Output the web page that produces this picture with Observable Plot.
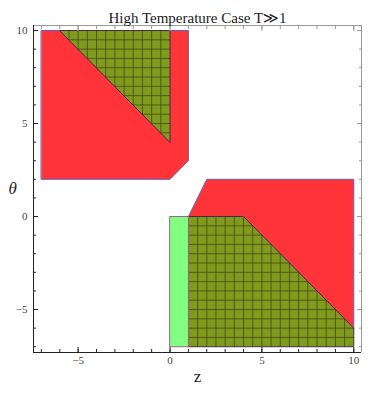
<!DOCTYPE html>
<html><head><meta charset="utf-8">
<script src="https://cdn.jsdelivr.net/npm/d3@7"></script>
<script src="https://cdn.jsdelivr.net/npm/@observablehq/plot@0.6"></script>
<style>body{margin:0;background:#fff}</style>
</head><body><div id="chart"></div>
<script>
const titleText = "High Temperature Case T\u226B1";
const xLabel = "z";
const yLabel = "\u03B8";
const xDomain = [-7.43, 10.42];
const yDomain = [-7.31, 10.27];
const majorTicks = [-5, 0, 5, 10];
const minorTicks = [-7, -6, -5, -4, -3, -2, -1, 0, 1, 2, 3, 4, 5, 6, 7, 8, 9, 10];

// regions (z, theta)
const redUpperX = [-7, 1, 1, 0, -7];
const redUpperY = [10, 10, 3, 2, 2];
const meshUpperX = [-6, 0, 0];
const meshUpperY = [10, 10, 4];
const redLowerX = [1, 2, 10, 10, 4];
const redLowerY = [0, 2, 2, -6, 0];
const meshLowerX = [1, 4, 10, 10, 1];
const meshLowerY = [0, 0, -6, -7, -7];
const stripX = [0, 1, 1, 0];
const stripY = [0, 0, -7, -7];
const meshStep = 0.5;

const rows = (xs, ys) => xs.map((x, i) => ({x, y: ys[i]}));

function meshSegments(xs, ys, step) {
  const n = xs.length, segs = [], eps = 1e-9;
  const [x0, x1] = d3.extent(xs), [y0, y1] = d3.extent(ys);
  for (let c = Math.ceil(x0 / step) * step; c < x1 - eps; c += step) {
    if (c <= x0 + eps) continue;
    const hits = [];
    for (let i = 0; i < n; i++) {
      const ax = xs[i], ay = ys[i], bx = xs[(i + 1) % n], by = ys[(i + 1) % n];
      if (ax !== bx && (ax - c) * (bx - c) <= 0) hits.push(ay + (c - ax) / (bx - ax) * (by - ay));
    }
    if (hits.length >= 2) segs.push({x1: c, x2: c, y1: d3.min(hits), y2: d3.max(hits)});
  }
  for (let c = Math.ceil(y0 / step) * step; c < y1 - eps; c += step) {
    if (c <= y0 + eps) continue;
    const hits = [];
    for (let i = 0; i < n; i++) {
      const ax = xs[i], ay = ys[i], bx = xs[(i + 1) % n], by = ys[(i + 1) % n];
      if (ay !== by && (ay - c) * (by - c) <= 0) hits.push(ax + (c - ay) / (by - ay) * (bx - ax));
    }
    if (hits.length >= 2) segs.push({y1: c, y2: c, x1: d3.min(hits), x2: d3.max(hits)});
  }
  return segs;
}

const red = "#ff3439", olive = "#7f9a1c", light = "#80ff80";
const redEdge = "#6a5fb0", oliveEdge = "#4a2850", lightEdge = "#a0608a";
const fmt = d => d < 0 ? "\u2212" + Math.abs(d) : String(d);
const poly = (xs, ys, fill, stroke) => Plot.line(rows(xs, ys), {x: "x", y: "y", fill, stroke, strokeWidth: 1, curve: "linear-closed"});
const mesh = (xs, ys) => Plot.link(meshSegments(xs, ys, meshStep), {x1: "x1", y1: "y1", x2: "x2", y2: "y2", stroke: "#2a2a10", strokeOpacity: 0.55, strokeWidth: 1});

const chart = Plot.plot({
  width: 374, height: 393,
  marginLeft: 33, marginRight: 13, marginTop: 25, marginBottom: 41,
  style: {fontFamily: "Liberation Serif", background: "#fff"},
  x: {domain: xDomain},
  y: {domain: yDomain},
  marks: [
    poly(redUpperX, redUpperY, red, redEdge),
    poly(meshUpperX, meshUpperY, olive, oliveEdge),
    mesh(meshUpperX, meshUpperY),
    poly(redLowerX, redLowerY, red, redEdge),
    poly(meshLowerX, meshLowerY, olive, oliveEdge),
    mesh(meshLowerX, meshLowerY),
    poly(stripX, stripY, light, lightEdge),
    Plot.ruleY([yDomain[1]], {stroke: "#999"}),
    Plot.ruleX([xDomain[1]], {stroke: "#999"}),
    Plot.ruleY([yDomain[0]], {stroke: "#222"}),
    Plot.ruleX([xDomain[0]], {stroke: "#222"}),
    Plot.axisX(minorTicks, {anchor: "bottom", tickSize: -3, tickFormat: () => "", stroke: "#222", label: null}),
    Plot.axisX(majorTicks, {anchor: "bottom", tickSize: -5, tickFormat: () => "", stroke: "#222", label: null}),
    Plot.axisX(majorTicks, {anchor: "bottom", tickSize: 0, tickPadding: 4, tickFormat: fmt, fontSize: 11, fill: "#444", label: null}),
    Plot.axisX(minorTicks, {anchor: "top", tickSize: -3, tickFormat: () => "", stroke: "#999", label: null}),
    Plot.axisX(majorTicks, {anchor: "top", tickSize: -5, tickFormat: () => "", stroke: "#999", label: null}),
    Plot.axisY(minorTicks, {anchor: "left", tickSize: -3, tickFormat: () => "", stroke: "#222", label: null}),
    Plot.axisY(majorTicks, {anchor: "left", tickSize: -5, tickFormat: () => "", stroke: "#222", label: null}),
    Plot.axisY(majorTicks, {anchor: "left", tickSize: 0, tickPadding: 6, tickFormat: fmt, fontSize: 11, fill: "#444", label: null}),
    Plot.axisY(minorTicks, {anchor: "right", tickSize: -3, tickFormat: () => "", stroke: "#999", label: null}),
    Plot.axisY(majorTicks, {anchor: "right", tickSize: -5, tickFormat: () => "", stroke: "#999", label: null}),
    Plot.text([titleText], {frameAnchor: "top", dy: -13, fontSize: 15, fill: "#222"}),
    Plot.text([xLabel], {frameAnchor: "bottom", dy: 29, fontSize: 17, fill: "#222"}),
    Plot.text([yLabel], {frameAnchor: "left", dx: -25, fontSize: 17, fontStyle: "italic", fill: "#222"})
  ]
});
document.getElementById("chart").appendChild(chart);
</script>
</body></html>
